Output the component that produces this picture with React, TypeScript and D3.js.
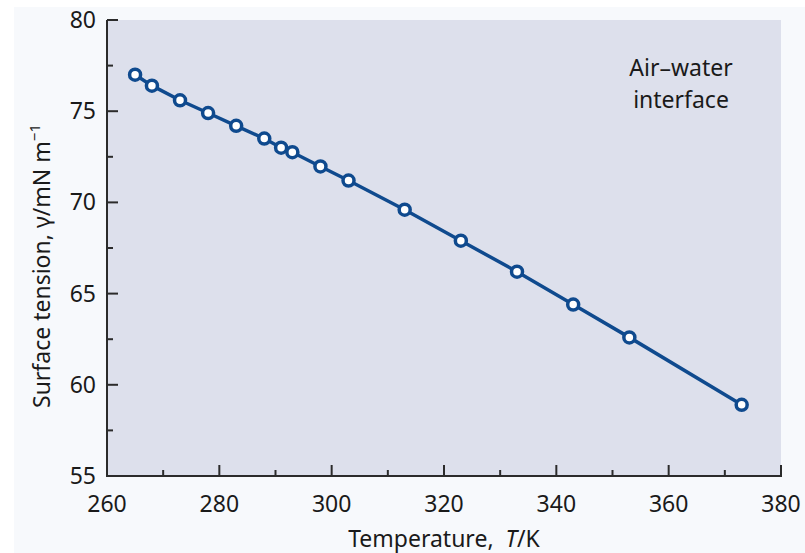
import React, { useEffect, useRef } from 'react';
import * as d3 from 'd3';

// Surface tension of water against air
const temperatures = [265, 268, 273, 278, 283, 288, 291, 293, 298, 303, 313, 323, 333, 343, 353, 373];
const tensions = [77.0, 76.4, 75.6, 74.9, 74.2, 73.5, 73.0, 72.75, 71.97, 71.2, 69.6, 67.9, 66.2, 64.4, 62.6, 58.9];
const xTicks = [260, 280, 300, 320, 340, 360, 380];
const yTicks = [55, 60, 65, 70, 75, 80];

const W = 805;
const H = 553;
const FONT = '"Noto Sans", "Open Sans", sans-serif';
const BLUE = '#0f4a8e';

export default function App() {
  const svgRef = useRef<SVGSVGElement | null>(null);

  useEffect(() => {
    if (!svgRef.current) return;
    const svg = d3.select(svgRef.current);
    svg.selectAll('*').remove();

    const x = d3.scaleLinear().domain([260, 380]).range([107, 781]);
    const y = d3.scaleLinear().domain([55, 80]).range([476, 20]);

    // page backdrop
    svg.append('rect').attr('x', 0).attr('y', 0).attr('width', W).attr('height', H).attr('fill', '#ffffff');
    svg.append('rect').attr('x', 14).attr('y', 7).attr('width', W - 14).attr('height', H - 7).attr('fill', '#f7f9fc');

    // plot panel
    svg.append('rect')
      .attr('x', x(260)).attr('y', y(80))
      .attr('width', x(380) - x(260)).attr('height', y(55) - y(80))
      .attr('fill', '#dde0ec');

    const axisColor = '#2b2b2b';
    const axes = svg.append('g').attr('stroke', axisColor).attr('stroke-width', 2);

    axes.append('line').attr('x1', x(260)).attr('x2', x(260)).attr('y1', y(80)).attr('y2', y(55) + 1);
    axes.append('line').attr('x1', x(260) - 1).attr('x2', x(380) + 1).attr('y1', y(55)).attr('y2', y(55));

    // inward ticks, major + minor
    d3.range(260, 381, 10).forEach(v => {
      const len = v % 20 === 0 ? 11 : 6;
      if (v === 260) return;
      axes.append('line').attr('x1', x(v)).attr('x2', x(v)).attr('y1', y(55)).attr('y2', y(55) - len);
    });
    d3.range(55, 80.1, 2.5).forEach(v => {
      const len = v % 5 === 0 ? 11 : 6;
      if (v === 55) return;
      axes.append('line').attr('x1', x(260)).attr('x2', x(260) + len).attr('y1', y(v)).attr('y2', y(v));
    });

    const labels = svg.append('g')
      .attr('font-family', FONT).attr('font-size', 23).attr('fill', '#1a1a1a');

    labels.selectAll('text.xt').data(xTicks).enter().append('text')
      .attr('class', 'xt')
      .attr('x', d => x(d)).attr('y', 512)
      .attr('text-anchor', 'middle')
      .text(d => d);

    labels.selectAll('text.yt').data(yTicks).enter().append('text')
      .attr('class', 'yt')
      .attr('x', 96).attr('y', d => y(d) + 8)
      .attr('text-anchor', 'end')
      .text(d => d);

    // axis titles
    const xt = labels.append('text').attr('x', 444).attr('y', 547).attr('text-anchor', 'middle');
    xt.append('tspan').text('Temperature,\u00a0 ');
    xt.append('tspan').attr('font-style', 'italic').text('T');
    xt.append('tspan').text('/K');

    const yt = labels.append('text')
      .attr('transform', 'translate(50,266) rotate(-90)')
      .attr('text-anchor', 'middle');
    yt.append('tspan').text('Surface tension, \u03b3/mN m');
    yt.append('tspan').attr('font-size', 15).attr('dy', -10).text('\u22121');

    // annotation
    labels.append('text').attr('x', 681).attr('y', 76).attr('text-anchor', 'middle').text('Air\u2013water');
    labels.append('text').attr('x', 681).attr('y', 108).attr('text-anchor', 'middle').text('interface');

    // data
    const pts = temperatures.map((t, i) => [t, tensions[i]] as [number, number]);
    const line = d3.line<[number, number]>().x(d => x(d[0])).y(d => y(d[1]));

    svg.append('path')
      .datum(pts)
      .attr('d', line)
      .attr('fill', 'none')
      .attr('stroke', BLUE)
      .attr('stroke-width', 3.5);

    svg.append('g').selectAll('circle').data(pts).enter().append('circle')
      .attr('cx', d => x(d[0])).attr('cy', d => y(d[1]))
      .attr('r', 5.5)
      .attr('fill', '#ffffff')
      .attr('stroke', BLUE)
      .attr('stroke-width', 3.5);
  }, []);

  return (
    <svg
      ref={svgRef}
      width={W}
      height={H}
      style={{ position: 'absolute', left: 0, top: 0, display: 'block' }}
    />
  );
}
